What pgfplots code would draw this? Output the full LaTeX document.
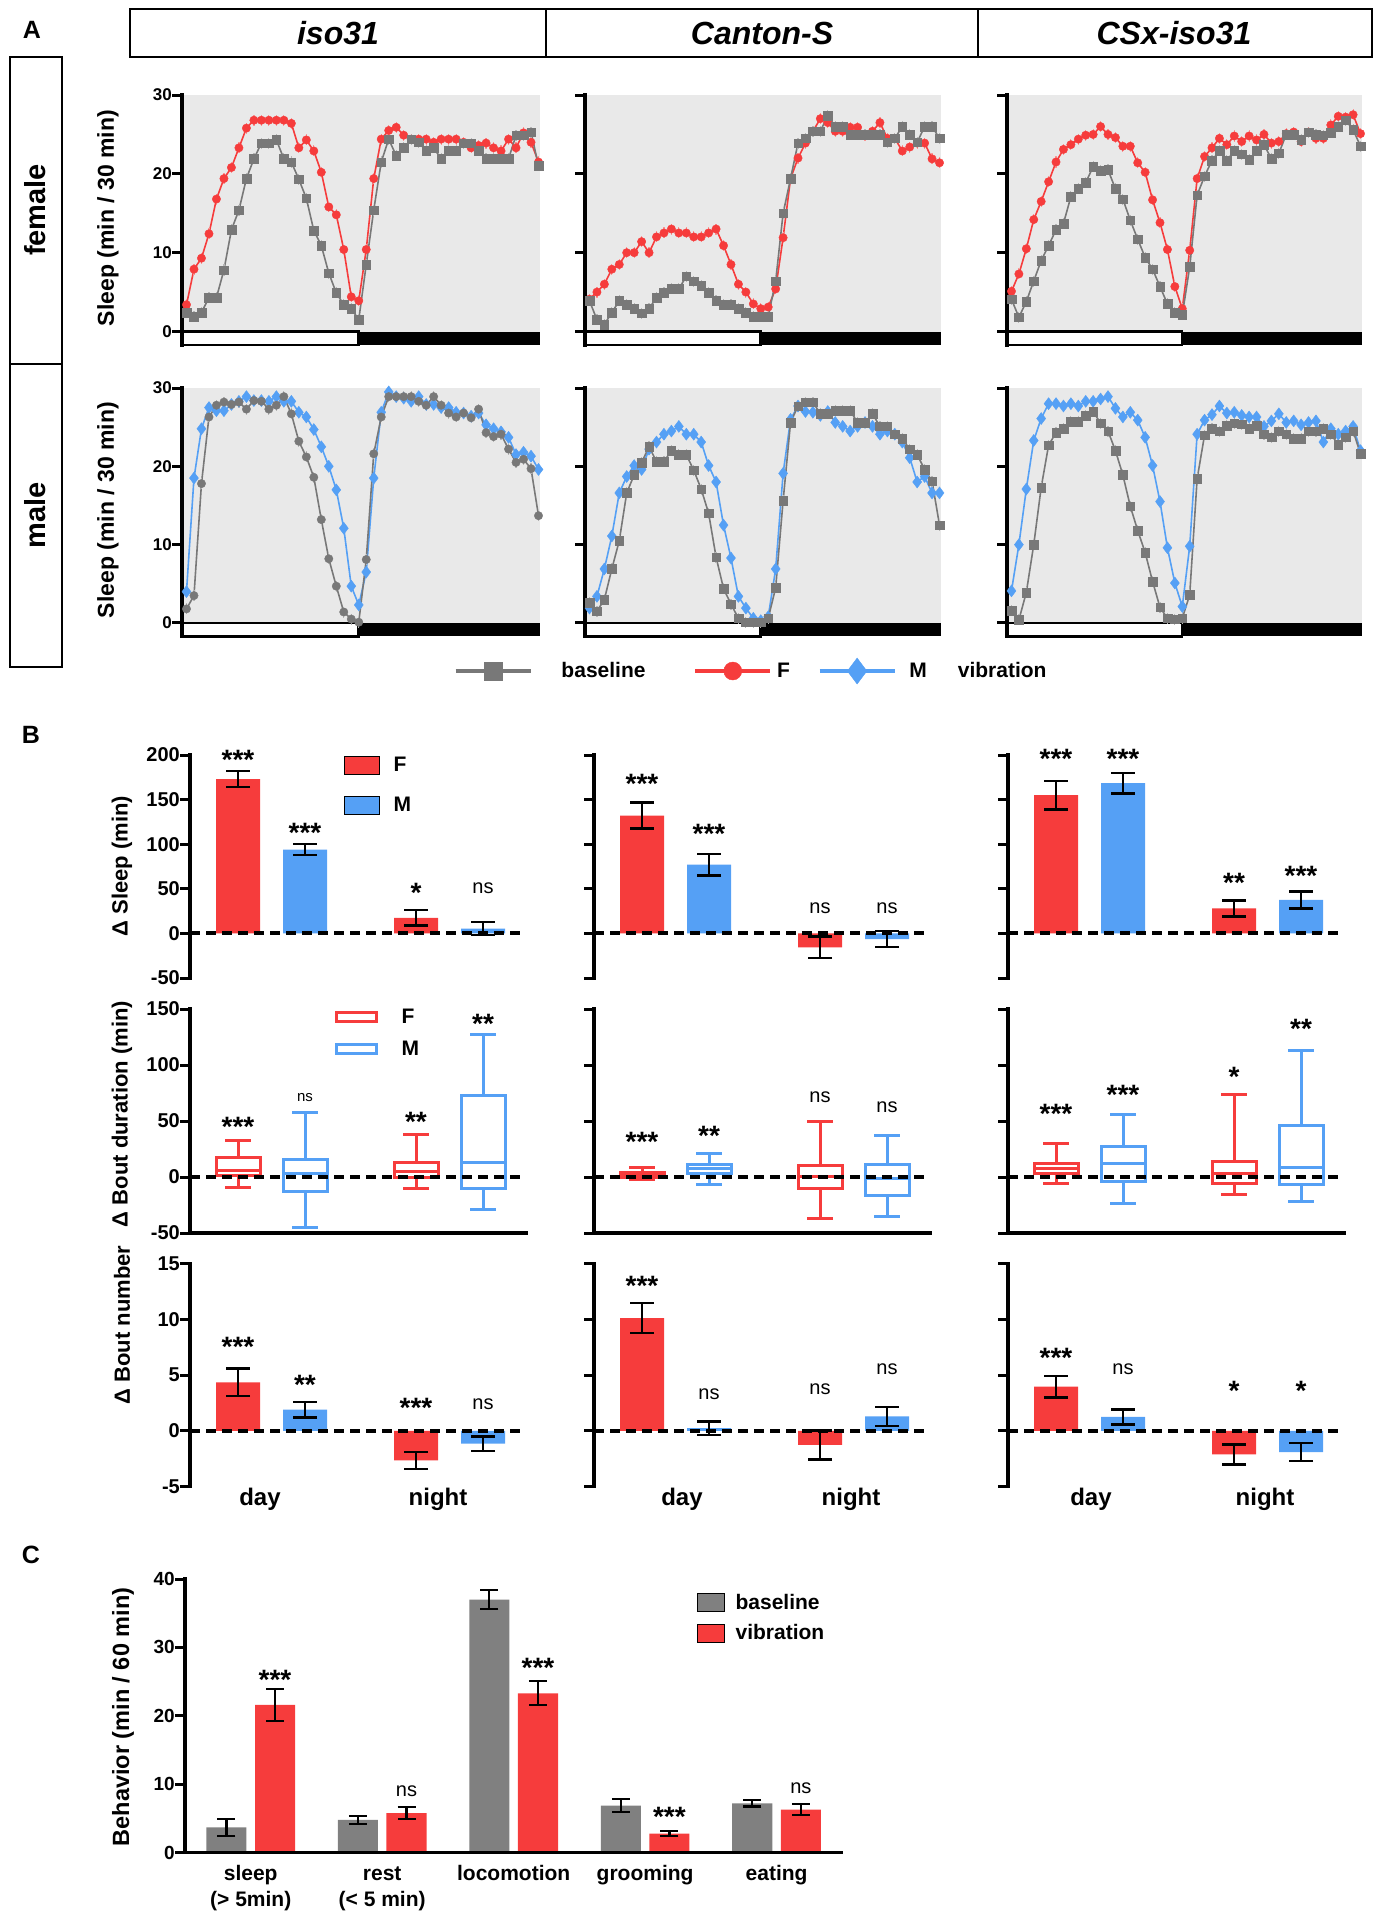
\documentclass[border=0pt]{standalone}
\usepackage{fontspec}
\setmainfont{Liberation Sans}
\usepackage{pgfplots}
\usepackage{pgfplotstable}
\pgfplotsset{compat=1.18}
\usepgfplotslibrary{statistics}
\pgfkeys{/pgf/number format/assume math mode=true}

\definecolor{myred}{RGB}{246,60,60}
\definecolor{myblue}{RGB}{85,160,245}
\definecolor{mygray}{RGB}{120,120,120}
\definecolor{bggray}{RGB}{233,233,233}
\definecolor{bargray}{RGB}{128,128,128}
\newcommand{\fs}[1]{\fontsize{#1}{#1}\selectfont}

\pgfplotstableread{
t Fv Fb Mv Mb
0 3.4 2.4 4.0 1.8
1 7.9 1.9 18.5 3.5
2 9.3 2.4 24.8 17.8
3 12.4 4.3 27.5 26.3
4 16.8 4.3 27.1 27.8
5 19.4 7.8 27.1 28.2
6 20.8 12.9 27.9 27.9
7 23.3 15.4 28.3 28.2
8 25.8 19.4 28.9 27.3
9 26.8 21.9 28.4 28.4
10 26.8 23.9 28.4 28.3
11 26.8 23.9 28.3 27.3
12 26.8 24.3 28.9 27.8
13 26.8 21.9 28.3 28.9
14 26.4 21.5 28.3 26.7
15 23.3 19.3 26.9 23.2
16 24.3 16.9 26.3 21.2
17 22.9 12.8 24.7 18.6
18 20.2 10.9 22.5 13.2
19 15.8 7.4 20.0 8.2
20 14.8 4.9 17.0 4.7
21 10.4 3.4 12.1 1.4
22 4.4 2.9 4.7 0.5
23 3.9 1.5 2.3 0.1
24 10.4 8.5 6.5 8.1
25 19.4 15.4 18.5 21.6
26 24.4 21.5 26.9 26.3
27 25.5 24.4 29.5 28.9
28 25.9 22.3 28.9 28.9
29 24.9 23.3 28.7 28.9
30 24.4 24.4 28.3 28.9
31 24.4 24.0 28.9 28.3
32 24.4 22.9 27.9 27.8
33 24.0 23.3 27.9 28.9
34 24.4 21.9 27.5 27.8
35 24.4 22.9 27.5 26.8
36 24.4 22.9 26.9 26.3
37 24.0 23.9 26.8 26.8
38 23.3 23.9 26.4 26.2
39 23.6 22.9 26.8 27.3
40 23.9 21.9 25.3 24.3
41 23.3 21.9 24.8 23.8
42 22.9 21.9 24.4 24.1
43 24.4 21.9 23.7 22.2
44 23.3 24.9 21.5 20.5
45 25.2 24.9 21.8 20.9
46 24.0 25.3 21.3 19.7
47 21.5 21.0 19.6 13.7
}\isoTab

\pgfplotstableread{
t Fv Fb Mv Mb
0 4.1 3.9 1.9 2.6
1 5.0 1.5 3.4 1.5
2 6.0 0.9 6.9 3.0
3 7.9 2.4 11.1 6.9
4 8.5 3.9 16.6 10.5
5 10.0 3.4 18.7 16.6
6 10.0 2.9 20.1 18.9
7 11.4 2.3 19.6 20.5
8 10.0 2.9 22.2 22.5
9 12.0 4.3 23.1 20.6
10 12.5 4.9 24.1 20.6
11 13.0 5.4 24.5 22.0
12 12.5 5.4 25.1 21.5
13 12.5 7.0 24.1 21.5
14 12.0 6.4 24.1 19.5
15 12.0 5.8 23.1 17.1
16 12.5 4.9 20.1 14.0
17 13.0 3.9 18.0 8.4
18 10.9 3.4 12.5 4.4
19 8.5 3.4 8.3 2.4
20 6.0 2.9 3.4 0.6
21 5.0 2.4 1.9 0.1
22 3.5 1.9 0.6 0.1
23 2.9 1.9 0.3 0.1
24 3.1 1.9 0.8 0.6
25 5.4 6.4 6.9 4.5
26 11.9 15.0 19.1 15.6
27 19.4 19.4 26.0 25.6
28 22.0 23.9 27.7 27.7
29 23.9 24.5 27.0 28.2
30 25.4 25.4 26.9 28.2
31 27.0 25.4 26.5 26.7
32 26.5 27.4 27.0 26.7
33 25.4 26.0 25.6 27.1
34 25.4 26.0 25.1 27.1
35 25.9 25.0 24.5 27.1
36 25.9 25.0 25.1 25.6
37 24.9 25.0 25.6 25.6
38 25.4 25.0 25.1 26.7
39 26.5 25.0 24.1 25.1
40 24.5 24.0 24.5 25.1
41 24.5 24.5 24.1 24.1
42 22.9 26.0 23.1 23.5
43 23.4 25.0 21.1 22.2
44 23.9 24.0 18.0 21.5
45 23.9 26.0 18.7 19.6
46 21.9 26.0 16.6 18.1
47 21.4 24.5 16.6 12.5
}\csTab

\pgfplotstableread{
t Fv Fb Mv Mb
0 5.1 4.1 4.1 1.6
1 7.3 1.8 10.0 0.4
2 10.5 3.8 17.1 3.9
3 14.2 6.4 23.3 10.0
4 16.5 9.0 26.1 17.3
5 19.0 10.9 28.0 22.7
6 21.5 12.9 28.0 24.3
7 23.1 13.7 27.7 24.8
8 23.7 17.1 28.0 25.7
9 24.4 18.1 27.7 25.7
10 24.9 18.9 28.3 26.5
11 25.0 20.9 28.3 27.0
12 26.0 20.4 28.6 25.5
13 25.0 20.5 28.9 24.5
14 24.6 18.1 27.4 22.0
15 23.5 16.8 26.3 18.9
16 23.5 14.1 26.9 14.9
17 21.4 11.7 25.9 11.8
18 20.2 9.4 23.7 9.0
19 16.7 7.9 20.1 5.3
20 13.8 5.7 15.5 2.0
21 10.4 3.5 9.6 0.6
22 5.7 2.4 5.1 0.5
23 2.9 2.1 2.1 0.6
24 10.3 8.2 9.8 3.6
25 19.4 17.3 24.1 18.4
26 22.2 19.7 25.9 24.0
27 23.3 21.7 26.6 24.8
28 24.5 22.9 27.7 24.5
29 23.7 21.7 26.8 25.2
30 24.8 22.9 26.9 25.5
31 24.1 22.5 26.5 25.4
32 24.8 21.8 26.3 24.8
33 24.3 22.9 26.3 25.2
34 25.0 23.7 25.1 24.1
35 23.9 21.9 25.8 23.7
36 24.1 22.6 26.7 24.5
37 25.1 25.0 25.6 24.1
38 25.3 25.0 25.8 23.5
39 24.1 24.3 25.3 23.5
40 25.3 25.3 25.6 24.5
41 24.5 25.0 25.8 24.5
42 24.5 24.9 23.1 24.8
43 26.2 25.2 24.8 24.1
44 27.3 26.0 24.1 22.8
45 27.2 26.8 24.5 23.7
46 27.5 25.6 25.1 24.5
47 25.1 23.5 22.0 21.6
}\csxTab

\pgfplotsset{
  base/.style={scale only axis, clip=false, anchor=north west,
    xtick=\empty, ytick pos=left, yticklabel pos=left,
    yticklabel style={inner sep=1pt}},
  fin/.style={
    axis line style={draw=none},
    every outer x axis line/.append style={draw=none},
    every outer y axis line/.append style={draw=none},
    every inner x axis line/.append style={draw=none},
    every inner y axis line/.append style={draw=none},
    tick style={draw=none},
    major tick length=9pt, tick align=outside},
  pA/.style={base, axis x line*=none, axis y line*=left,
    xmin=-0.6, xmax=47.2, ymin=-1.7, ymax=30, ytick={0,10,20,30},
    axis background/.style={fill=bggray},
    tick label style={font=\bfseries\fs{17}}},
  pAf/.style={pA, height=249.9pt},
  pAm/.style={pA, height=248.3pt},
  noyl/.style={yticklabels={}},
  ebA/.style={error bars/y dir=both, error bars/y fixed=0.7, error bars/error mark=none,
    error bars/error bar style={line width=1.2pt, color=#1!55}},
  lineF/.style={color=myred, line width=1.6pt, mark=*, mark size=4.2pt, mark options={solid, line width=0.4pt}, forget plot, ebA=myred},
  lineM/.style={color=myblue, line width=1.6pt, mark=diamond*, mark size=6pt, mark options={solid, line width=0.4pt}, forget plot, ebA=myblue},
  lineB/.style={color=mygray, line width=1.6pt, mark=square*, mark size=4.3pt, mark options={solid, line width=0.4pt}, forget plot, ebA=mygray},
  lineBc/.style={color=mygray, line width=1.6pt, mark=*, mark size=4.2pt, mark options={solid, line width=0.4pt}, forget plot, ebA=mygray},
  pB/.style={base, axis y line*=left, xmin=0, xmax=336, width=336pt,
    tick label style={font=\bfseries\fs{20}}},
  pB1/.style={pB, axis x line*=bottom, ymin=-50, ymax=200, ytick={-50,0,50,100,150,200}, height=223pt},
  pB2/.style={pB, axis x line*=bottom, ymin=-50, ymax=150, ytick={-50,0,50,100,150}, height=224pt},
  pB3/.style={pB, axis x line*=bottom, xtick pos=left, xticklabel pos=left,
    ymin=-5, ymax=15, ytick={-5,0,5,10,15}, height=223.4pt, xticklabels={day,night},
    xticklabel style={font=\bfseries\fs{24}, inner sep=0pt, yshift=8pt}},
  ebB/.style={error bars/y dir=both, error bars/y explicit,
    error bars/error bar style={line width=2.5pt, black},
    error bars/error mark options={rotate=90, line width=2.5pt, black, mark size=12pt}},
  barF/.style={ybar, bar width=44, bar shift=0pt, fill=myred, draw=none, forget plot, ebB},
  barM/.style={ybar, bar width=44, bar shift=0pt, fill=myblue, draw=none, forget plot, ebB},
  bxF/.style={draw=myred, line width=3pt, forget plot, boxplot/draw direction=y},
  bxM/.style={draw=myblue, line width=3pt, forget plot, boxplot/draw direction=y},
}
\tikzset{
  st/.style={font=\bfseries\fs{28}, inner sep=0pt, anchor=north},
  ns/.style={font=\fs{20}, inner sep=0pt, anchor=north},
  zline/.style={black, line width=4pt, dash pattern=on 10pt off 6pt},
}
\newcommand{\LD}{%
  \filldraw[fill=white, draw=black, line width=2.5pt] (axis cs:-0.6,-1.7) rectangle (axis cs:22.95,0);
  \fill[black] (axis cs:22.95,-1.7) rectangle (axis cs:47.2,0);}
\newcommand{\Z}{\draw[zline] (axis cs:0,0) -- (axis cs:336,0);}
% y axis line: x, ymin, ymax ; ticks: x, list
\newcommand{\yax}[3]{\draw[black, line width=3.5pt, line cap=rect] (axis cs:#1,#2) -- (axis cs:#1,#3);}
\newcommand{\ytk}[2]{\pgfplotsinvokeforeach{#2}{\draw[black, line width=3pt] (axis cs:#1,##1) -- ++(-10pt,0pt);}}
\newcommand{\AX}{\yax{-0.6}{-1.7}{30}\ytk{-0.6}{0,10,20,30}}

\begin{document}
\begin{tikzpicture}
\path[use as bounding box] (0pt,0pt) rectangle (1381pt,-1920pt);

% ---------- headers ----------
\node[font=\bfseries\fs{25}] at (32pt,-30pt) {A};
\node[font=\bfseries\fs{25}] at (31pt,-735pt) {B};
\node[font=\bfseries\fs{25}] at (31pt,-1555pt) {C};
\draw[line width=1.5pt] (130pt,-9pt) rectangle (1372pt,-57pt);
\draw[line width=1.5pt] (546pt,-9pt) -- (546pt,-57pt);
\draw[line width=1.5pt] (978pt,-9pt) -- (978pt,-57pt);
\node[font=\bfseries\itshape\fs{32}] at (338pt,-33pt) {iso31};
\node[font=\bfseries\itshape\fs{32}] at (762pt,-33pt) {Canton-S};
\node[font=\bfseries\itshape\fs{32}] at (1174pt,-33pt) {CSx-iso31};
\draw[line width=1.5pt] (10pt,-57pt) rectangle (62pt,-667pt);
\draw[line width=1.5pt] (10pt,-364pt) -- (62pt,-364pt);
\node[rotate=90, font=\bfseries\fs{29}] at (35pt,-210pt) {female};
\node[rotate=90, font=\bfseries\fs{29}] at (35pt,-515pt) {male};
\node[rotate=90, font=\bfseries\fs{23}] at (108pt,-218pt) {Sleep (min / 30 min)};
\node[rotate=90, font=\bfseries\fs{23}] at (108pt,-510pt) {Sleep (min / 30 min)};
\node[rotate=90, font=\bfseries\fs{22}] at (122pt,-866pt) {Δ Sleep (min)};
\node[rotate=90, font=\bfseries\fs{22}] at (122pt,-1114pt) {Δ Bout duration (min)};
\node[rotate=90, font=\bfseries\fs{22}] at (122pt,-1325pt) {Δ Bout number};
\node[rotate=90, font=\bfseries\fs{23.5}] at (123pt,-1717pt) {Behavior (min / 60 min)};

% ---------- Panel A ----------
\begin{axis}[pAf, at={(182pt,-95pt)}, width=358pt, fin]
\LD
\addplot[lineF] table[x=t,y=Fv]{\isoTab};
\addplot[lineB] table[x=t,y=Fb]{\isoTab};
\AX
\end{axis}
\begin{axis}[pAf, noyl, at={(585pt,-95pt)}, width=356pt, fin]
\LD
\addplot[lineF] table[x=t,y=Fv]{\csTab};
\addplot[lineB] table[x=t,y=Fb]{\csTab};
\AX
\end{axis}
\begin{axis}[pAf, noyl, at={(1007pt,-95pt)}, width=355pt, fin]
\LD
\addplot[lineF] table[x=t,y=Fv]{\csxTab};
\addplot[lineB] table[x=t,y=Fb]{\csxTab};
\AX
\end{axis}
\begin{axis}[pAm, at={(182pt,-388pt)}, width=358pt, fin]
\LD
\addplot[lineM] table[x=t,y=Mv]{\isoTab};
\addplot[lineBc] table[x=t,y=Mb]{\isoTab};
\AX
\end{axis}
\begin{axis}[pAm, noyl, at={(585pt,-388pt)}, width=356pt, fin,
  legend columns=4,
  legend style={at={(-0.368,-0.1398)}, anchor=west, draw=none, fill=none, inner sep=0pt,
    outer sep=0pt, column sep=0pt, nodes={inner sep=0pt}, font=\bfseries\fs{21}},
  legend image code/.code={\draw[mark repeat=2, mark phase=2, #1] plot coordinates {(0pt,0pt) (37.5pt,0pt) (75pt,0pt)};}]
\LD
\addplot[lineM] table[x=t,y=Mv]{\csTab};
\addplot[lineB] table[x=t,y=Mb]{\csTab};
\AX
\addlegendimage{color=mygray, line width=3.5pt, mark=square*, mark size=9pt, mark options={solid, line width=0.4pt}}
\addlegendentry{\hspace*{29pt}baseline\hspace*{48pt}}
\addlegendimage{color=myred, line width=3.5pt, mark=*, mark size=9pt, mark options={solid, line width=0.4pt}}
\addlegendentry{\hspace*{5pt}F\hspace*{28pt}}
\addlegendimage{color=myblue, line width=3.5pt, mark=diamond*, mark size=13pt, mark options={solid, line width=0.4pt}}
\addlegendentry{\hspace*{13pt}M\hspace*{31pt}}
\addlegendimage{empty legend}
\addlegendentry{vibration}
\end{axis}
\begin{axis}[pAm, noyl, at={(1007pt,-388pt)}, width=355pt, fin]
\LD
\addplot[lineM] table[x=t,y=Mv]{\csxTab};
\addplot[lineB] table[x=t,y=Mb]{\csxTab};
\AX
\end{axis}

% ---------- Panel B row 1 ----------
\begin{axis}[pB1, at={(190pt,-755pt)}, fin,
  legend style={at={(0.4583,0.9955)}, anchor=north west, draw=none, fill=none, inner sep=0pt,
    row sep=21pt, nodes={inner sep=0pt}, font=\bfseries\fs{21}},
  legend cell align=left,
  legend image code/.code={\fill[#1] (0pt,-9pt) rectangle (35pt,9pt);}]
\addplot[barF] coordinates {(48,173) +- (0,9) (226,17.5) +- (0,8.5)};
\addplot[barM] coordinates {(115,94) +- (0,6) (293,5.5) +- (0,7.5)};
\Z
\yax{0}{-50}{200}\ytk{0}{-50,0,50,100,150,200}
\addlegendimage{fill=myred}\addlegendentry{\hspace*{14pt}F}
\addlegendimage{fill=myblue}\addlegendentry{\hspace*{14pt}M}
\node[st] at (axis cs:48,205.8) {***};
\node[st] at (axis cs:115,124) {***};
\node[st] at (axis cs:226,56) {*};
\node[ns] at (axis cs:293,57) {ns};
\end{axis}
\begin{axis}[pB1, noyl, at={(594pt,-755pt)}, fin]
\addplot[barF] coordinates {(48,132) +- (0,14.5) (226,-15.6) +- (0,12)};
\addplot[barM] coordinates {(115,77) +- (0,12) (293,-6.5) +- (0,9)};
\Z
\yax{0}{-50}{200}\ytk{0}{-50,0,50,100,150,200}
\node[st] at (axis cs:48,179) {***};
\node[st] at (axis cs:115,123) {***};
\node[ns] at (axis cs:226,34.7) {ns};
\node[ns] at (axis cs:293,34.7) {ns};
\end{axis}
\begin{axis}[pB1, noyl, at={(1008pt,-755pt)}, fin]
\addplot[barF] coordinates {(48,155) +- (0,16) (226,28) +- (0,9)};
\addplot[barM] coordinates {(115,168.5) +- (0,11.5) (293,37.5) +- (0,9.5)};
\Z
\yax{0}{-50}{200}\ytk{0}{-50,0,50,100,150,200}
\node[st] at (axis cs:48,207) {***};
\node[st] at (axis cs:115,207) {***};
\node[st] at (axis cs:226,68) {**};
\node[st] at (axis cs:293,75) {***};
\end{axis}

% ---------- Panel B row 2 ----------
\begin{axis}[pB2, at={(190pt,-1009pt)}, fin,
  legend style={at={(0.43,1.0)}, anchor=north west, draw=none, fill=none, inner sep=0pt,
    row sep=16pt, nodes={inner sep=0pt}, font=\bfseries\fs{21}},
  legend cell align=left,
  legend image code/.code={\draw[#1, line width=3pt] (0pt,-4.5pt) rectangle (40pt,4.5pt);}]
\addplot[bxF, boxplot prepared={draw position=48, lower whisker=-9.2, lower quartile=1.5, median=6.25, upper quartile=17.6, upper whisker=32.4, box extend=44, whisker extend=26}] coordinates {};
\addplot[bxM, boxplot prepared={draw position=115, lower whisker=-45, lower quartile=-12.8, median=2.7, upper quartile=16, upper whisker=57.8, box extend=44, whisker extend=26}] coordinates {};
\addplot[bxF, boxplot prepared={draw position=226, lower whisker=-10.7, lower quartile=-0.6, median=4.8, upper quartile=13.1, upper whisker=37.8, box extend=44, whisker extend=26}] coordinates {};
\addplot[bxM, boxplot prepared={draw position=293, lower whisker=-28.6, lower quartile=-10.7, median=13.1, upper quartile=73.2, upper whisker=127, box extend=44, whisker extend=26}] coordinates {};
\Z
\yax{0}{-50}{150}\ytk{0}{-50,0,50,100,150}
\draw[black, line width=3.5pt, line cap=rect] (axis cs:0,-50) -- (axis cs:336,-50);
\addlegendimage{draw=myred}\addlegendentry{\hspace*{24pt}F}
\addlegendimage{draw=myblue}\addlegendentry{\hspace*{24pt}M}
\node[st] at (axis cs:48,53.6) {***};
\node[ns, font=\fs{15}] at (axis cs:115,75) {ns};
\node[st] at (axis cs:226,58) {**};
\node[st] at (axis cs:293,145.5) {**};
\end{axis}
\begin{axis}[pB2, noyl, at={(594pt,-1009pt)}, fin]
\addplot[bxF, boxplot prepared={draw position=48, lower whisker=-2.4, lower quartile=-0.3, median=2.4, upper quartile=4.2, upper whisker=8.6, box extend=44, whisker extend=26}] coordinates {};
\addplot[bxM, boxplot prepared={draw position=115, lower whisker=-7.1, lower quartile=3.3, median=7.7, upper quartile=11, upper whisker=21.1, box extend=44, whisker extend=26}] coordinates {};
\addplot[bxF, boxplot prepared={draw position=226, lower whisker=-36.9, lower quartile=-10.1, median=0.3, upper quartile=10.1, upper whisker=49.4, box extend=44, whisker extend=26}] coordinates {};
\addplot[bxM, boxplot prepared={draw position=293, lower whisker=-35.4, lower quartile=-16.7, median=-1.2, upper quartile=11, upper whisker=36.9, box extend=44, whisker extend=26}] coordinates {};
\Z
\yax{0}{-50}{150}\ytk{0}{-50,0,50,100,150}
\draw[black, line width=3.5pt, line cap=rect] (axis cs:0,-50) -- (axis cs:336,-50);
\node[st] at (axis cs:48,40) {***};
\node[st] at (axis cs:115,45.5) {**};
\node[ns] at (axis cs:226,76) {ns};
\node[ns] at (axis cs:293,67) {ns};
\end{axis}
\begin{axis}[pB2, noyl, at={(1008pt,-1009pt)}, fin]
\addplot[bxF, boxplot prepared={draw position=48, lower whisker=-6.2, lower quartile=2.7, median=8, upper quartile=12.2, upper whisker=30, box extend=44, whisker extend=26}] coordinates {};
\addplot[bxM, boxplot prepared={draw position=115, lower whisker=-23.5, lower quartile=-3.9, median=12.2, upper quartile=27.4, upper whisker=55.7, box extend=44, whisker extend=26}] coordinates {};
\addplot[bxF, boxplot prepared={draw position=226, lower whisker=-15.2, lower quartile=-5.7, median=3.3, upper quartile=13.7, upper whisker=74.1, box extend=44, whisker extend=26}] coordinates {};
\addplot[bxM, boxplot prepared={draw position=293, lower whisker=-22, lower quartile=-6.9, median=8.6, upper quartile=45.8, upper whisker=112.8, box extend=44, whisker extend=26}] coordinates {};
\Z
\yax{0}{-50}{150}\ytk{0}{-50,0,50,100,150}
\draw[black, line width=3.5pt, line cap=rect] (axis cs:0,-50) -- (axis cs:336,-50);
\node[st] at (axis cs:48,65) {***};
\node[st] at (axis cs:115,82) {***};
\node[st] at (axis cs:226,98) {*};
\node[st] at (axis cs:293,141) {**};
\end{axis}

% ---------- Panel B row 3 ----------
\begin{axis}[pB3, at={(190pt,-1263.3pt)}, xtick={70,248}, fin]
\addplot[barF] coordinates {(48,4.35) +- (0,1.25) (226,-2.65) +- (0,0.75)};
\addplot[barM] coordinates {(115,1.9) +- (0,0.7) (293,-1.15) +- (0,0.65)};
\Z
\yax{0}{-5}{15}\ytk{0}{-5,0,5,10,15}
\node[st] at (axis cs:48,8.4) {***};
\node[st] at (axis cs:115,5.0) {**};
\node[st] at (axis cs:226,2.9) {***};
\node[ns] at (axis cs:293,2.9) {ns};
\end{axis}
\begin{axis}[pB3, noyl, at={(594pt,-1263.3pt)}, xtick={88,257}, fin]
\addplot[barF] coordinates {(48,10.1) +- (0,1.35) (226,-1.25) +- (0,1.3)};
\addplot[barM] coordinates {(115,0.25) +- (0,0.6) (293,1.3) +- (0,0.85)};
\Z
\yax{0}{-5}{15}\ytk{0}{-5,0,5,10,15}
\node[st] at (axis cs:48,13.9) {***};
\node[ns] at (axis cs:115,3.8) {ns};
\node[ns] at (axis cs:226,4.2) {ns};
\node[ns] at (axis cs:293,6.0) {ns};
\end{axis}
\begin{axis}[pB3, noyl, at={(1008pt,-1263.3pt)}, xtick={83,257}, fin]
\addplot[barF] coordinates {(48,3.95) +- (0,0.95) (226,-2.1) +- (0,0.9)};
\addplot[barM] coordinates {(115,1.25) +- (0,0.68) (293,-1.9) +- (0,0.8)};
\Z
\yax{0}{-5}{15}\ytk{0}{-5,0,5,10,15}
\node[st] at (axis cs:48,7.4) {***};
\node[ns] at (axis cs:115,6.0) {ns};
\node[st] at (axis cs:226,4.5) {*};
\node[st] at (axis cs:293,4.5) {*};
\end{axis}

% ---------- Panel C ----------
\begin{axis}[base, at={(185pt,-1579pt)}, width=656pt, height=273.7pt,
  axis x line*=bottom, axis y line*=left, xtick pos=left, xticklabel pos=left,
  xmin=-0.5, xmax=4.49, ymin=0, ymax=40, ytick={0,10,20,30,40},
  xtick={0,1,2,3,4},
  xticklabels={{\strut sleep\\(> 5min)},{\strut rest\\(< 5 min)},{\strut locomotion},{\strut grooming},{\strut eating}},
  tick label style={font=\bfseries\fs{19}},
  xticklabel style={font=\bfseries\fontsize{21}{26}\selectfont, align=center, inner sep=0pt},
  legend style={at={(0.7805,0.949)}, anchor=north west, draw=none, fill=none, inner sep=0pt,
    row sep=12pt, nodes={inner sep=0pt}, font=\bfseries\fs{21}},
  legend cell align=left,
  legend image code/.code={\fill[#1] (0pt,-9pt) rectangle (27pt,9pt);},
  fin]
\addplot[ybar, bar width=0.305, bar shift=0pt, fill=bargray, draw=none, forget plot,
  error bars/y dir=both, error bars/y explicit,
  error bars/error bar style={line width=2.2pt, black},
  error bars/error mark options={rotate=90, line width=2.2pt, black, mark size=9pt}]
  coordinates {(-0.185,3.7) +- (0,1.2) (0.815,4.8) +- (0,0.6) (1.815,37.0) +- (0,1.4) (2.815,6.9) +- (0,0.9) (3.815,7.2) +- (0,0.45)};
\addplot[ybar, bar width=0.305, bar shift=0pt, fill=myred, draw=none, forget plot,
  error bars/y dir=both, error bars/y explicit,
  error bars/error bar style={line width=2.2pt, black},
  error bars/error mark options={rotate=90, line width=2.2pt, black, mark size=9pt}]
  coordinates {(0.185,21.6) +- (0,2.35) (1.185,5.8) +- (0,0.85) (2.185,23.3) +- (0,1.75) (3.185,2.8) +- (0,0.4) (4.185,6.3) +- (0,0.8)};
\yax{-0.5}{0}{40}\ytk{-0.5}{0,10,20,30,40}
\draw[black, line width=3.5pt, line cap=rect] (axis cs:-0.5,0) -- (axis cs:4.49,0);
\addlegendimage{fill=bargray}\addlegendentry{\hspace*{11pt}baseline}
\addlegendimage{fill=myred}\addlegendentry{\hspace*{11pt}vibration}
\node[st] at (axis cs:0.185,26.7) {***};
\node[ns] at (axis cs:1.185,9.75) {ns};
\node[st] at (axis cs:2.185,28.5) {***};
\node[st] at (axis cs:3.185,6.7) {***};
\node[ns] at (axis cs:4.185,10.2) {ns};
\end{axis}
\end{tikzpicture}
\end{document}
